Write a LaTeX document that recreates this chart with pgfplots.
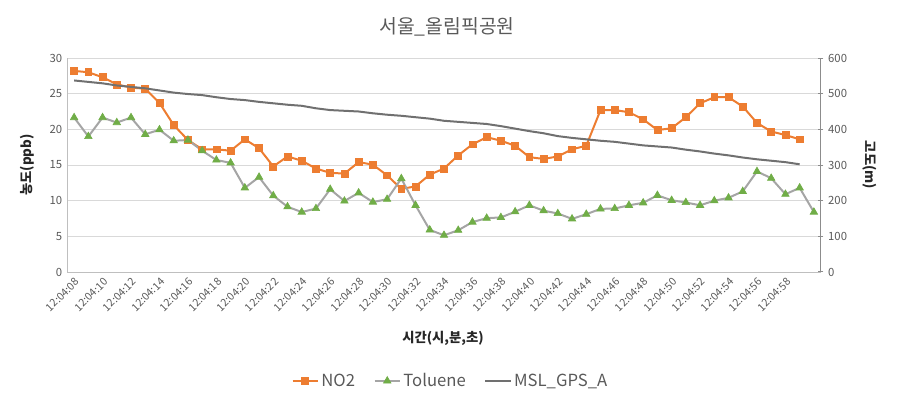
\documentclass[border=0pt]{standalone}
\usepackage{fontspec}
\setmainfont{Noto Sans CJK KR}
\usepackage{pgfplots}
\usepackage{pgfplotstable}
\pgfplotsset{compat=1.18}
\definecolor{orng}{HTML}{ED7D31}
\definecolor{grn}{HTML}{70AD47}
\definecolor{tolline}{HTML}{A5A5A5}
\definecolor{mslc}{HTML}{707070}
\definecolor{gridc}{HTML}{D9D9D9}
\definecolor{axc}{HTML}{BFBFBF}
\definecolor{raxc}{HTML}{8C8C8C}
\definecolor{tickc}{HTML}{595959}
\definecolor{labc}{HTML}{262626}
\pgfplotstableread{
idx no2 tol msl
0 28.2 21.65 537
1 28.0 19.0 533
2 27.3 21.65 529
3 26.3 20.95 523
4 25.85 21.65 519
5 25.7 19.3 515
6 23.7 19.95 509
7 20.6 18.4 503
8 18.5 18.5 499
9 17.2 17.0 496
10 17.2 15.7 490
11 17.0 15.3 485
12 18.6 11.8 482
13 17.35 13.3 477
14 14.8 10.7 473
15 16.2 9.15 469
16 15.6 8.4 466
17 14.5 8.9 459
18 13.9 11.6 454
19 13.8 9.95 452
20 15.4 11.1 450
21 15.05 9.8 445
22 13.55 10.2 441
23 11.65 13.1 438
24 12.0 9.35 434
25 13.65 5.9 430
26 14.5 5.15 424
27 16.35 5.85 421
28 17.9 7.0 418
29 18.9 7.55 415
30 18.4 7.65 409
31 17.7 8.45 402
32 16.1 9.35 395
33 15.85 8.6 389
34 16.2 8.2 381
35 17.2 7.45 376
36 17.7 8.1 372
37 22.7 8.85 368
38 22.7 8.9 365
39 22.4 9.35 360
40 21.4 9.7 355
41 19.9 10.75 352
42 20.15 10.05 349
43 21.7 9.75 343
44 23.65 9.35 338
45 24.5 10.0 332
46 24.5 10.4 327
47 23.2 11.3 321
48 20.9 14.1 316
49 19.7 13.15 312
50 19.2 10.9 308
51 18.6 11.8 302
52 nan 8.4 nan
}\datatable
\begin{document}
\begin{tikzpicture}
\useasboundingbox (0,0) rectangle (672.75pt,303pt);
\begin{axis}[
  scale only axis, width=565.5pt, height=160.5pt,
  at={(50.25pt,99pt)}, anchor=south west,
  xmin=-0.5, xmax=52.5, ymin=0, ymax=30,
  ytick={0,5,...,30},
  xtick={0,2,...,50},
  xticklabels={12:04:08,12:04:10,12:04:12,12:04:14,12:04:16,12:04:18,12:04:20,12:04:22,12:04:24,12:04:26,12:04:28,12:04:30,12:04:32,12:04:34,12:04:36,12:04:38,12:04:40,12:04:42,12:04:44,12:04:46,12:04:48,12:04:50,12:04:52,12:04:54,12:04:56,12:04:58},
  x tick label style={rotate=45, anchor=east, yshift=-6pt, xshift=1pt, font=\fontsize{8}{9}\selectfont, text=tickc},
  y tick label style={font=\fontsize{8.5}{10}\selectfont, text=tickc},
  xtick style={draw=none}, ytick style={draw=none},
  axis x line*=bottom, axis y line*=left,
  axis line style={axc, line width=0.75pt},
  ymajorgrids, grid style={gridc, line width=0.75pt},
  /pgf/number format/assume math mode=true,
  title={서울\_올림픽공원},
  title style={at={(axis description cs:0.504,1.11)}, anchor=center, font=\fontsize{14.5}{16}\selectfont, text=tickc},
  xlabel={시간(시,분,초)},
  every axis x label/.style={at={(axis description cs:0.4987,-0.308)}, anchor=center, font=\bfseries\fontsize{10}{12}\selectfont, text=labc},
  ylabel={농도(ppb)},
  every axis y label/.style={at={(axis description cs:-0.053,0.5)}, anchor=center, rotate=90, font=\bfseries\fontsize{10}{12}\selectfont, text=labc},
  legend style={at={(0.509,-0.509)}, anchor=center, draw=none, fill=none, font=\fontsize{12.5}{14}\selectfont, text=tickc, legend columns=3, /tikz/every even column/.append style={column sep=12pt}},
  legend image code/.code={\draw[mark repeat=2,mark phase=2] plot coordinates {(0pt,0pt)(9.4pt,0pt)(18.8pt,0pt)};},
]
\addplot[orng, line width=1.5pt, mark=square*, mark size=2.6pt, mark options={fill=orng, draw=orng, line width=0.5pt}] table[x=idx, y=no2] {\datatable};
\addlegendentry{NO2}
\addplot[tolline, line width=1.5pt, mark=triangle*, mark size=3.2pt, mark options={fill=grn, draw=grn, line width=0.5pt}] table[x=idx, y=tol] {\datatable};
\addlegendentry{Toluene}
\addlegendimage{mslc, line width=1.5pt}
\addlegendentry{MSL\_GPS\_A}
\end{axis}
\begin{axis}[
  scale only axis, width=565.5pt, height=160.5pt,
  at={(50.25pt,99pt)}, anchor=south west,
  xmin=-0.5, xmax=52.5, ymin=0, ymax=600,
  ytick={0,100,...,600},
  hide x axis,
  axis y line*=right,
  axis line style={raxc, line width=0.75pt},
  ytick style={raxc, line width=0.75pt},
  tick align=center, major tick length=3.75pt,
  y tick label style={font=\fontsize{8.5}{10}\selectfont, text=tickc},
  /pgf/number format/assume math mode=true,
  ylabel={고도(m)},
  every axis y label/.style={at={(axis description cs:1.065,0.5)}, anchor=center, rotate=-90, font=\bfseries\fontsize{10}{12}\selectfont, text=labc},
]
\addplot[mslc, line width=1.5pt, no markers] table[x=idx, y=msl] {\datatable};
\end{axis}
\end{tikzpicture}
\end{document}
